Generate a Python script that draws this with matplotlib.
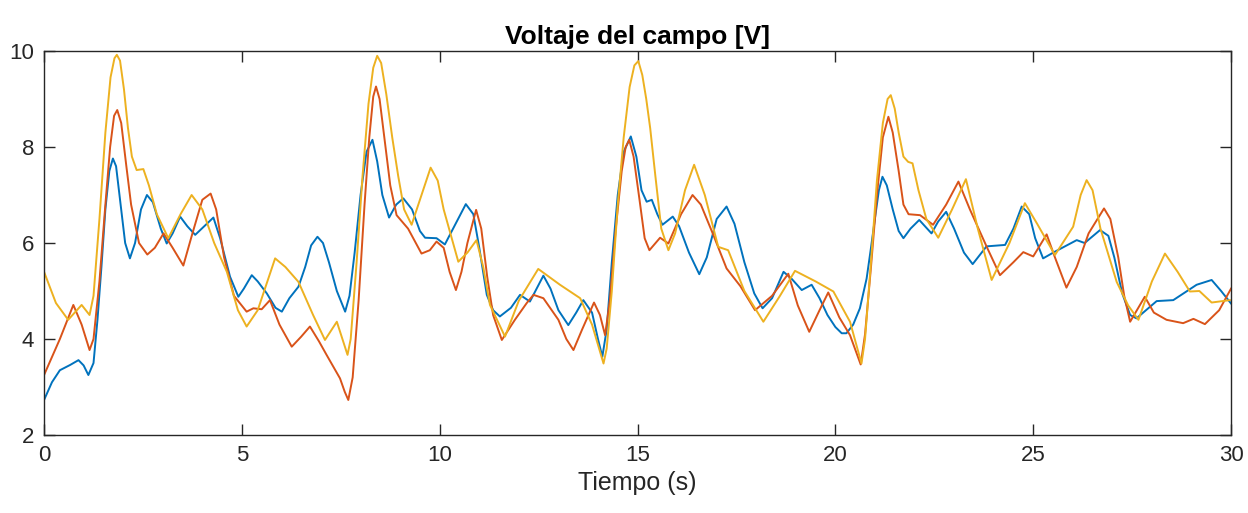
import matplotlib
matplotlib.use('Agg')
import matplotlib.pyplot as plt

plt.rcParams['font.family'] = ['Liberation Sans', 'DejaVu Sans']

# Datos (tiempo en s, voltaje en V)
t_azul = [0.0, 0.2, 0.4, 0.66, 0.87, 1.0, 1.12, 1.25, 1.35, 1.45, 1.55, 1.65, 1.74, 1.82, 1.92, 2.05, 2.17,
          2.3, 2.45, 2.6, 2.75, 2.95, 3.1, 3.25, 3.44, 3.62, 3.82, 4.05, 4.28, 4.45, 4.7, 4.91, 5.05, 5.25,
          5.4, 5.63, 5.85, 6.01, 6.2, 6.43, 6.6, 6.75, 6.91, 7.05, 7.2, 7.4, 7.61, 7.72, 7.85, 8.0, 8.15,
          8.3, 8.42, 8.55, 8.72, 8.9, 9.08, 9.3, 9.5, 9.63, 9.92, 10.13, 10.4, 10.66, 10.85, 11.0, 11.19,
          11.35, 11.52, 11.8, 12.03, 12.28, 12.45, 12.62, 12.8, 13.0, 13.25, 13.45, 13.63, 13.85, 14.0,
          14.11, 14.22, 14.35, 14.5, 14.65, 14.83, 14.97, 15.1, 15.23, 15.36, 15.5, 15.63, 15.89, 16.05,
          16.3, 16.56, 16.75, 17.0, 17.25, 17.45, 17.7, 17.95, 18.16, 18.4, 18.69, 18.9, 19.15, 19.4,
          19.6, 19.8, 20.0, 20.16, 20.28, 20.45, 20.62, 20.79, 20.9, 21.0, 21.1, 21.19, 21.3, 21.45, 21.6,
          21.72, 21.9, 22.12, 22.43, 22.6, 22.8, 23.0, 23.25, 23.47, 23.65, 23.82, 24.29, 24.5, 24.71,
          24.9, 25.05, 25.25, 25.55, 26.1, 26.3, 26.69, 26.9, 27.05, 27.25, 27.45, 27.61, 27.85, 28.12,
          28.54, 29.13, 29.51, 29.75, 30.0]
v_azul = [2.73, 3.1, 3.35, 3.46, 3.56, 3.45, 3.25, 3.5, 4.4, 5.5, 6.7, 7.5, 7.76, 7.6, 6.9, 6.0, 5.68,
          6.0, 6.7, 7.0, 6.85, 6.3, 5.99, 6.2, 6.55, 6.35, 6.17, 6.35, 6.53, 6.1, 5.3, 4.88, 5.05, 5.33,
          5.2, 4.95, 4.65, 4.57, 4.85, 5.09, 5.5, 5.95, 6.13, 6.0, 5.6, 5.0, 4.57, 4.9, 5.8, 7.0, 7.9,
          8.15, 7.7, 7.0, 6.53, 6.8, 6.93, 6.7, 6.25, 6.11, 6.1, 5.97, 6.4, 6.81, 6.6, 5.9, 4.92,
          4.6, 4.47, 4.65, 4.92, 4.78, 5.05, 5.32, 5.05, 4.6, 4.29, 4.55, 4.81, 4.55, 4.0,
          3.63, 4.2, 5.6, 7.0, 7.9, 8.22, 7.8, 7.1, 6.86, 6.9, 6.6, 6.38, 6.55, 6.35,
          5.8, 5.35, 5.7, 6.5, 6.76, 6.4, 5.6, 4.95, 4.64, 4.85, 5.4, 5.25, 5.02, 5.13,
          4.85, 4.5, 4.25, 4.12, 4.12, 4.3, 4.64, 5.26, 5.9, 6.51, 7.1, 7.38, 7.2, 6.7, 6.25,
          6.1, 6.3, 6.48, 6.2, 6.45, 6.65, 6.3, 5.8, 5.56, 5.75, 5.93, 5.96, 6.3, 6.76,
          6.6, 6.1, 5.68, 5.82, 6.06, 6.0, 6.27, 6.15, 5.7, 4.95, 4.5, 4.43, 4.6, 4.79,
          4.81, 5.13, 5.23, 5.0, 4.74]

t_rojo = [0.0, 0.4, 0.74, 0.95, 1.15, 1.25, 1.4, 1.55, 1.67, 1.77, 1.85, 1.95, 2.08, 2.2, 2.4, 2.61, 2.8,
          3.02, 3.25, 3.52, 3.75, 4.0, 4.21, 4.35, 4.55, 4.8, 5.12, 5.29, 5.5, 5.71, 5.95, 6.26, 6.5, 6.72,
          6.95, 7.14, 7.48, 7.6, 7.69, 7.8, 7.95, 8.1, 8.22, 8.32, 8.39, 8.48, 8.6, 8.75, 8.91, 9.2, 9.54,
          9.75, 9.92, 10.1, 10.25, 10.41, 10.55, 10.7, 10.92, 11.05, 11.2, 11.35, 11.57, 11.9, 12.2, 12.37,
          12.62, 13.0, 13.2, 13.38, 13.6, 13.9, 14.05, 14.18, 14.3, 14.45, 14.6, 14.7, 14.79, 14.9, 15.05,
          15.18, 15.3, 15.57, 15.78, 16.1, 16.39, 16.6, 16.9, 17.25, 17.6, 17.97, 18.4, 18.81, 19.05, 19.34,
          19.6, 19.82, 20.1, 20.37, 20.64, 20.75, 20.9, 21.05, 21.2, 21.34, 21.45, 21.6, 21.72, 21.85, 22.14,
          22.47, 22.8, 23.11, 23.4, 23.82, 24.16, 24.5, 24.75, 25.0, 25.34, 25.55, 25.84, 26.1, 26.4, 26.79,
          26.95, 27.15, 27.3, 27.45, 27.82, 28.05, 28.37, 28.79, 29.05, 29.34, 29.7, 30.0]
v_rojo = [3.25, 4.0, 4.71, 4.3, 3.77, 4.0, 5.2, 6.8, 8.0, 8.65, 8.77, 8.5, 7.6, 6.8, 6.0, 5.76, 5.9,
          6.2, 5.9, 5.53, 6.2, 6.9, 7.03, 6.7, 5.7, 4.9, 4.57, 4.64, 4.62, 4.81, 4.3, 3.84, 4.05, 4.26,
          3.95, 3.67, 3.18, 2.9, 2.73, 3.2, 4.8, 6.8, 8.2, 9.05, 9.26, 9.0, 8.2, 7.2, 6.58, 6.3, 5.78,
          5.85, 6.03, 5.9, 5.4, 5.02, 5.4, 6.0, 6.69, 6.3, 5.3, 4.5, 3.98, 4.4, 4.75, 4.92,
          4.85, 4.4, 4.0, 3.77, 4.2, 4.76, 4.5, 4.08, 4.8, 6.3, 7.5, 8.0, 8.15, 7.8, 6.9,
          6.1, 5.85, 6.11, 5.99, 6.6, 7.0, 6.8, 6.2, 5.47, 5.1, 4.6, 4.9, 5.36, 4.7, 4.15,
          4.6, 4.97, 4.45, 4.08, 3.47, 4.1, 5.5, 7.0, 8.2, 8.63, 8.3, 7.5, 6.8, 6.6, 6.58,
          6.38, 6.8, 7.28, 6.7, 5.93, 5.33, 5.6, 5.81, 5.72, 6.18, 5.7, 5.07, 5.5, 6.2, 6.72,
          6.5, 5.7, 4.9, 4.36, 4.88, 4.55, 4.4, 4.33, 4.42, 4.31, 4.6, 5.05]

t_amarillo = [0.0, 0.3, 0.61, 0.95, 1.15, 1.25, 1.4, 1.55, 1.68, 1.78, 1.84, 1.92, 2.02, 2.12, 2.22, 2.34,
              2.51, 2.65, 2.85, 3.14, 3.45, 3.73, 4.0, 4.3, 4.62, 4.9, 5.12, 5.4, 5.84, 6.1, 6.43, 6.8, 7.1,
              7.4, 7.67, 7.75, 7.9, 8.05, 8.2, 8.32, 8.42, 8.52, 8.65, 8.8, 8.95, 9.1, 9.29, 9.5, 9.77, 9.95,
              10.1, 10.26, 10.47, 10.7, 10.93, 11.1, 11.27, 11.65, 12.0, 12.49, 13.04, 13.55, 13.85, 14.14,
              14.22, 14.35, 14.5, 14.65, 14.8, 14.92, 15.02, 15.12, 15.22, 15.32, 15.45, 15.6, 15.78, 15.95,
              16.2, 16.43, 16.7, 17.04, 17.29, 17.7, 18.18, 18.6, 18.98, 19.5, 19.95, 20.37, 20.66, 20.75,
              20.9, 21.05, 21.2, 21.32, 21.4, 21.5, 21.6, 21.72, 21.84, 21.95, 22.1, 22.3, 22.6, 22.95, 23.3,
              23.6, 23.95, 24.4, 24.79, 25.1, 25.55, 26.01, 26.2, 26.35, 26.5, 26.7, 27.11, 27.4, 27.66,
              28.0, 28.33, 28.65, 28.96, 29.2, 29.51, 29.97]
v_amarillo = [5.4, 4.75, 4.4, 4.71, 4.5, 4.9, 6.5, 8.3, 9.45, 9.85, 9.92, 9.8, 9.2, 8.4, 7.8, 7.52,
              7.54, 7.2, 6.6, 6.1, 6.6, 7.0, 6.7, 6.0, 5.4, 4.6, 4.26, 4.6, 5.68, 5.5, 5.19, 4.5, 3.98,
              4.36, 3.67, 4.0, 5.6, 7.4, 8.9, 9.65, 9.9, 9.75, 9.1, 8.2, 7.4, 6.7, 6.38, 6.9, 7.57, 7.3,
              6.7, 6.23, 5.61, 5.8, 6.06, 5.5, 4.71, 4.05, 4.8, 5.46, 5.13, 4.85, 4.3, 3.49,
              3.8, 5.0, 6.8, 8.2, 9.25, 9.7, 9.79, 9.5, 9.0, 8.39, 7.4, 6.3, 5.85, 6.2,
              7.1, 7.63, 7.0, 5.92, 5.85, 5.0, 4.36, 4.9, 5.42, 5.2, 4.99, 4.36, 3.49, 4.0,
              5.6, 7.3, 8.5, 9.0, 9.08, 8.8, 8.3, 7.8, 7.69, 7.66, 7.1, 6.5, 6.11, 6.7, 7.33,
              6.3, 5.23, 6.0, 6.83, 6.4, 5.75, 6.34, 7.0, 7.31, 7.1, 6.3, 5.19, 4.7, 4.4,
              5.2, 5.78, 5.4, 4.99, 5.0, 4.76, 4.81]

fig = plt.figure(figsize=(12.48, 5.13), dpi=100)
ax = fig.add_axes([0.0353, 0.152, 0.9511, 0.7486])

ax.plot(t_azul, v_azul, color='#0072BD', lw=1.4, solid_joinstyle='round')
ax.plot(t_rojo, v_rojo, color='#D95319', lw=1.4, solid_joinstyle='round')
ax.plot(t_amarillo, v_amarillo, color='#EDB120', lw=1.4, solid_joinstyle='round')

ax.set_xlim(0, 30)
ax.set_ylim(2, 10)
ax.set_xticks([0, 5, 10, 15, 20, 25, 30])
ax.set_yticks([2, 4, 6, 8, 10])

ax.tick_params(direction='in', length=8, width=1.0, colors='#262626', labelsize=16,
               top=True, right=True, pad=7)
for s in ax.spines.values():
    s.set_color('#262626')
    s.set_linewidth(1.0)

ax.set_title('Voltaje del campo [V]', fontsize=19, fontweight='bold', pad=5)
ax.set_xlabel('Tiempo (s)', fontsize=18, color='#262626', labelpad=4)

plt.savefig('out.png', dpi=100)
